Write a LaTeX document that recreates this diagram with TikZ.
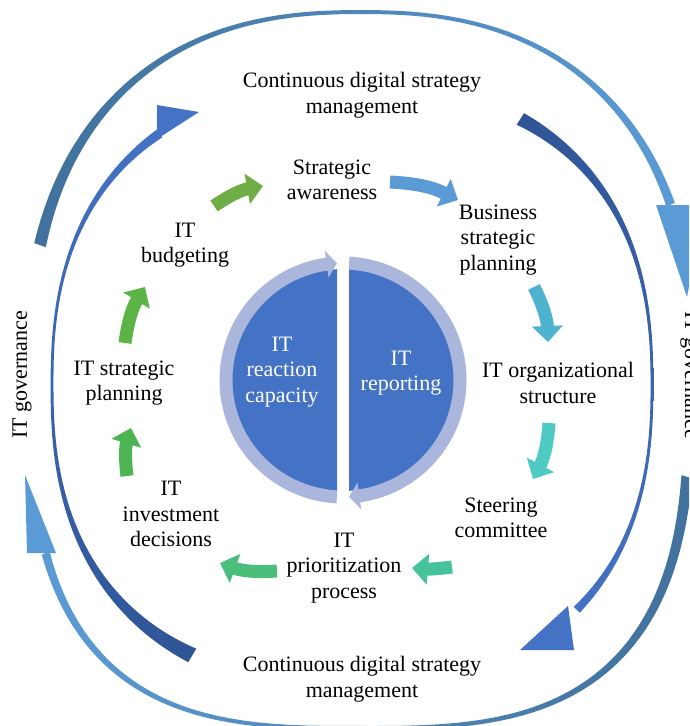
\documentclass[tikz,border=0pt]{standalone}
\usepackage{fontspec}
\setmainfont{Liberation Serif}
\usetikzlibrary{positioning,arrows.meta}

\definecolor{govsteel}{HTML}{41719C}
\definecolor{govlight}{HTML}{5B9BD5}
\definecolor{cdsmdark}{HTML}{2F5597}
\definecolor{cdsmblue}{HTML}{4472C4}
\definecolor{ringlav}{HTML}{ABB6DC}
\definecolor{stepa}{HTML}{70AD47}
\definecolor{stepb}{HTML}{5B9BD5}
\definecolor{stepc}{HTML}{4DB3CF}
\definecolor{stepd}{HTML}{4FCBC3}
\definecolor{stepe}{HTML}{47C39C}
\definecolor{stepf}{HTML}{4CBE7C}
\definecolor{stepg}{HTML}{4CB552}
\definecolor{steph}{HTML}{5BB445}

\tikzset{
  declare function={
    wd(\s,\p,\q,\r)=\p*(1-\s)^2+2*\q*\s*(1-\s)+\r*\s^2;
    sx(\t)=cos(\t)*(abs(cos(\t))+0.0001)^(2/\rn-1);
    sy(\t)=sin(\t)*(abs(sin(\t))+0.0001)^(2/\rn-1);
  },
  lbl/.style={align=center, font=\fontsize{22}{25.5}\selectfont},
  inlbl/.style={lbl, text=white},
  cyclearrow/.style={line width=13pt, -{Triangle[length=16pt,width=30pt]}},
}

% band along a rounded ring, from angle #1 to angle #2, widths #3 (tail) #4 (ctrl) #5 (end), shading #6
\newcommand{\band}[6]{%
  \shade[#6] plot[domain=#1:#2, samples=70, variable=\ang]
    ({\cx+(\ra+wd((\ang-(#1))/((#2)-(#1)),#3,#4,#5)/2)*sx(\ang)},
     {\cy+(\rb+wd((\ang-(#1))/((#2)-(#1)),#3,#4,#5)/2)*sy(\ang)})
  -- plot[domain=#2:#1, samples=70, variable=\ang]
    ({\cx+(\ra-wd((\ang-(#1))/((#2)-(#1)),#3,#4,#5)/2)*sx(\ang)},
     {\cy+(\rb-wd((\ang-(#1))/((#2)-(#1)),#3,#4,#5)/2)*sy(\ang)})
  -- cycle;}

\begin{document}
\begin{tikzpicture}[x=1pt, y=1pt]
  \useasboundingbox (0,0) rectangle (689,-726);
  \clip (0,0) rectangle (689,-726);

  % outer ring: IT governance
  \def\cx{361}\def\cy{-368}\def\ra{332}\def\rb{356}\def\rn{2.4}
  \band{163.8}{23.1}{12}{-2.5}{9}{left color=govsteel, right color=govlight}
  \fill[govlight] (656,-205) -- (705,-205) -- (687,-297) -- cycle;
  \def\cx{360}\def\cy{-368}\def\ra{330}\def\rb{360}\def\rn{3}
  \band{-9.6}{-158.4}{11}{-1.5}{8}{right color=govsteel, left color=govlight}
  \fill[govlight] (27,-553) -- (56,-553) -- (25,-475) -- cycle;

  % inner ring: continuous digital strategy management
  \def\cx{352}\def\cy{-385}\def\ra{300}\def\rb{300}\def\rn{2.4}
  \band{242}{126}{15}{-6}{9}{bottom color=cdsmdark, top color=cdsmblue}
  \fill[cdsmblue] (157,-105) -- (199,-112) -- (157,-139) -- cycle;
  \band{60}{-45}{13}{-4.5}{8}{top color=cdsmdark, bottom color=cdsmblue}
  \fill[cdsmblue] (568,-606) -- (574,-650) -- (520,-650) -- cycle;

  % centre disc
  \begin{scope}[shift={(343,-380)}]
    \fill[cdsmblue] (93.1:111) arc[start angle=93.1, end angle=266.9, radius=111] -- cycle;
    \fill[cdsmblue] (86.9:111) arc[start angle=86.9, end angle=-86.9, radius=111] -- cycle;
    \fill[ringlav] (267:123.5) arc[start angle=267, end angle=98, radius=123.5]
      -- (98:130.5) -- (93:117) -- (98:103.5) -- (98:110.5)
      arc[start angle=98, end angle=267, radius=110.5] -- cycle;
    \fill[ringlav] (87:123.5) arc[start angle=87, end angle=-82, radius=123.5]
      -- (-82:130.5) -- (-87:117) -- (-82:103.5) -- (-82:110.5)
      arc[start angle=-82, end angle=87, radius=110.5] -- cycle;
  \end{scope}

  % labels
  \node[lbl] (cdsmtop) at (362,-95) {Continuous digital strategy\\management};
  \node[lbl] (cdsmbot) at (362,-679) {Continuous digital strategy\\management};
  \node[lbl] (aware) at (332,-180) {Strategic\\awareness};
  \node[lbl] (bsp) at (498,-240) {Business\\strategic\\planning};
  \node[lbl] (itorg) at (558,-383) {IT organizational\\structure};
  \node[lbl] (steer) at (501,-518) {Steering\\committee};
  \node[lbl] (prior) at (344,-568) {IT\\prioritization\\process};
  \node[lbl] (invest) at (171,-514) {IT\\investment\\decisions};
  \node[lbl] (itsp) at (124,-383) {IT strategic\\planning};
  \node[lbl] (budget) at (185,-245) {IT\\budgeting};
  \node[inlbl] (react) at (282,-372) {IT\\reaction\\capacity};
  \node[inlbl] (report) at (401,-373) {IT\\reporting};
  \node[lbl, rotate=90] (govl) at (22,-375) {IT governance};
  \node[lbl, rotate=-90] (govr) at (690,-375) {IT governance};

  % cycle arrows
  \coordinate (a0) at (214,-206); \coordinate (a1) at (263,-186);
  \coordinate (b0) at (390,-182); \coordinate (b1) at (458,-200);
  \coordinate (c0) at (534,-287); \coordinate (c1) at (548,-342);
  \coordinate (d0) at (549,-423); \coordinate (d1) at (533,-479);
  \coordinate (e0) at (452,-567); \coordinate (e1) at (412,-568);
  \coordinate (f0) at (277,-571); \coordinate (f1) at (220,-563);
  \coordinate (g0) at (127,-476); \coordinate (g1) at (131,-428);
  \coordinate (h0) at (125,-343); \coordinate (h1) at (145,-287);
  \draw[cyclearrow, stepa] (a0) to[bend left=12] (a1);
  \draw[cyclearrow, stepb] (b0) to[bend left=12] (b1);
  \draw[cyclearrow, stepc] (c0) to[bend left=12] (c1);
  \draw[cyclearrow, stepd] (d0) to[bend left=12] (d1);
  \draw[cyclearrow, stepe] (e0) to[bend left=6] (e1);
  \draw[cyclearrow, stepf] (f0) to[bend left=12] (f1);
  \draw[cyclearrow, stepg] (g0) to[bend left=12] (g1);
  \draw[cyclearrow, steph] (h0) to[bend left=12] (h1);
\end{tikzpicture}
\end{document}
